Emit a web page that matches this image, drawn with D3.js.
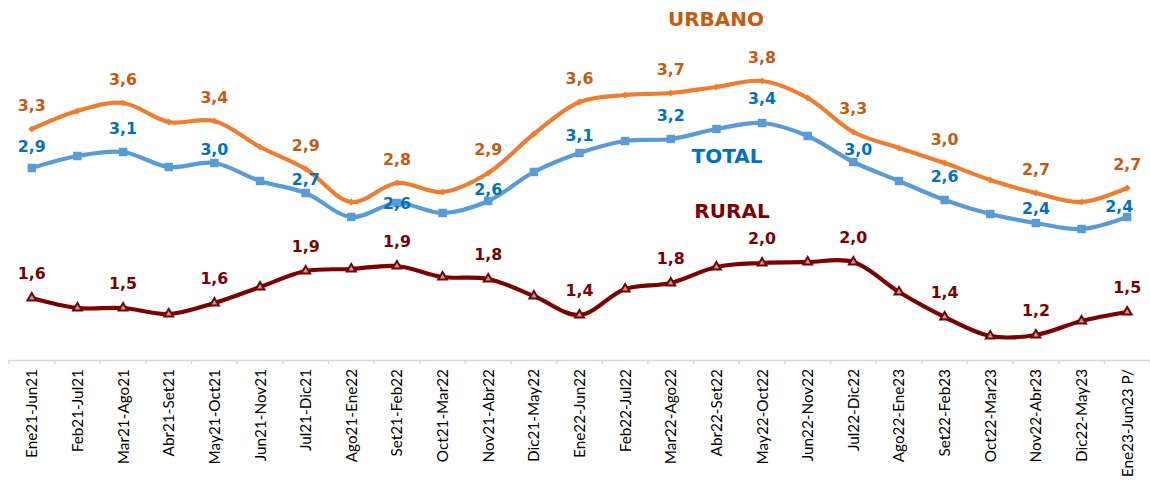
<!DOCTYPE html>
<html>
<head>
<meta charset="utf-8">
<script src="https://cdn.jsdelivr.net/npm/d3@7"></script>
<style>
  html, body { margin: 0; padding: 0; background: #ffffff; }
  svg { display: block; }
</style>
</head>
<body>
<svg id="chart" width="1150" height="482"></svg>
<script>
// ---- data ----
const categories = ["Ene21-Jun21","Feb21-Jul21","Mar21-Ago21","Abr21-Set21","May21-Oct21","Jun21-Nov21","Jul21-Dic21","Ago21-Ene22","Set21-Feb22","Oct21-Mar22","Nov21-Abr22","Dic21-May22","Ene22-Jun22","Feb22-Jul22","Mar22-Ago22","Abr22-Set22","May22-Oct22","Jun22-Nov22","Jul22-Dic22","Ago22-Ene23","Set22-Feb23","Oct22-Mar23","Nov22-Abr23","Dic22-May23","Ene23-Jun23 P/"];
const urbano = [3.30,3.48,3.56,3.37,3.38,3.12,2.90,2.57,2.76,2.67,2.86,3.25,3.57,3.64,3.66,3.72,3.78,3.61,3.27,3.11,2.96,2.79,2.66,2.57,2.71];
const total  = [2.91,3.03,3.07,2.92,2.96,2.78,2.66,2.42,2.56,2.46,2.58,2.87,3.06,3.18,3.20,3.30,3.36,3.23,2.97,2.78,2.59,2.45,2.36,2.30,2.42];
const rural  = [1.61,1.51,1.51,1.45,1.56,1.72,1.88,1.90,1.93,1.82,1.80,1.63,1.44,1.70,1.76,1.92,1.96,1.97,1.97,1.67,1.42,1.23,1.24,1.38,1.47];
const seriesNames = ["URBANO","TOTAL","RURAL"];

// ---- layout (label nudges for TOTAL, by category index) ----
const totalLabelLift = {0:16,2:18,4:8,6:8,8:-6,10:6,12:12,14:18,16:19,18:7,20:18,22:9,24:5};
const totalLabelShift = {18:5,24:-8};

const svg = d3.select("#chart");
const x = d3.scaleBand().domain(categories).range([9, 1150]).paddingInner(0).paddingOuter(0);
const y = d3.scaleLinear().domain([1, 4.5]).range([359, 9]);
const cx = c => x(c) + x.bandwidth() / 2;

const locale = d3.formatLocale({decimal: ",", thousands: ".", grouping: [3], currency: ["", ""]});
const fmt = locale.format(".1f");

// ---- x axis ----
const axisY = 360;
const axis = d3.axisBottom(x).tickSize(0).tickPadding(0);
const gx = svg.append("g").attr("transform", `translate(0,${axisY})`).call(axis);
gx.select(".domain").attr("stroke", "#d9d9d9").attr("stroke-width", 1.5);
gx.selectAll(".tick text")
  .attr("transform", "rotate(-90)")
  .attr("text-anchor", "end")
  .attr("x", -9)
  .attr("y", 0)
  .attr("dy", "0.36em")
  .attr("fill", "#000")
  .style("font-family", "Lato, 'Liberation Sans', sans-serif")
  .style("font-size", "15.3px");
const boundaries = categories.map(c => x(c)).concat([x.range()[1]]);
svg.append("g").selectAll("line").data(boundaries).join("line")
  .attr("x1", d => d).attr("x2", d => d)
  .attr("y1", axisY).attr("y2", axisY + 4)
  .attr("stroke", "#d9d9d9").attr("stroke-width", 1.5);

// ---- series ----
const series = [
  {name: seriesNames[0], values: urbano, line: "#ED7D31", label: "#C55A11"},
  {name: seriesNames[1], values: total,  line: "#5B9BD5", label: "#0070C0"},
  {name: seriesNames[2], values: rural,  line: "#7B0000", label: "#7B0000"}
];

const lineGen = d3.line()
  .x((d, i) => cx(categories[i]))
  .y(d => y(d))
  .curve(d3.curveCatmullRom.alpha(0.5));

[series[2], series[1], series[0]].forEach(s => {
  svg.append("path")
    .datum(s.values)
    .attr("d", lineGen)
    .attr("fill", "none")
    .attr("stroke", s.line)
    .attr("stroke-width", 4.2)
    .attr("stroke-linejoin", "round")
    .attr("stroke-linecap", "round");
});

// markers
svg.append("g").selectAll("path").data(urbano).join("path")
  .attr("d", d3.symbol().type(d3.symbolSquare).size(24))
  .attr("transform", (d, i) => `translate(${cx(categories[i])},${y(d)}) rotate(45)`)
  .attr("fill", "#ED7D31");
svg.append("g").selectAll("path").data(total).join("path")
  .attr("d", d3.symbol().type(d3.symbolSquare).size(72))
  .attr("transform", (d, i) => `translate(${cx(categories[i])},${y(d)})`)
  .attr("fill", "#5B9BD5");
svg.append("g").selectAll("path").data(rural).join("path")
  .attr("d", d3.symbol().type(d3.symbolTriangle).size(34))
  .attr("transform", (d, i) => `translate(${cx(categories[i])},${y(d)})`)
  .attr("fill", "#A5A5A5")
  .attr("stroke", "#7B0000")
  .attr("stroke-width", 2)
  .attr("stroke-linejoin", "miter");

// data labels (every other point)
const labelFont = "'DejaVu Sans', Verdana, sans-serif";
series.forEach(s => {
  const idx = s.values.map((v, i) => i).filter(i => i % 2 === 0);
  svg.append("g").selectAll("text").data(idx).join("text")
    .attr("x", i => cx(categories[i]) + (s.name === "TOTAL" ? (totalLabelShift[i] || 0) : 0))
    .attr("y", i => y(s.values[i]) - (s.name === "TOTAL" ? totalLabelLift[i] : (s.name === "URBANO" ? 18 : 19)))
    .attr("text-anchor", "middle")
    .attr("fill", s.label)
    .style("font-family", labelFont)
    .style("font-weight", "bold")
    .style("font-size", "15.8px")
    .text(i => fmt(s.values[i]));
});

// series names
const nameLayout = [
  {name: seriesNames[0], x: 716, y: 26, color: "#C55A11"},
  {name: seriesNames[1], x: 727, y: 163, color: "#0070C0"},
  {name: seriesNames[2], x: 732, y: 218, color: "#7B0000"}
];
svg.append("g").selectAll("text").data(nameLayout).join("text")
  .attr("x", d => d.x).attr("y", d => d.y)
  .attr("text-anchor", "middle")
  .attr("fill", d => d.color)
  .style("font-family", labelFont)
  .style("font-weight", "bold")
  .style("font-size", "20px")
  .text(d => d.name);
</script>
</body>
</html>
